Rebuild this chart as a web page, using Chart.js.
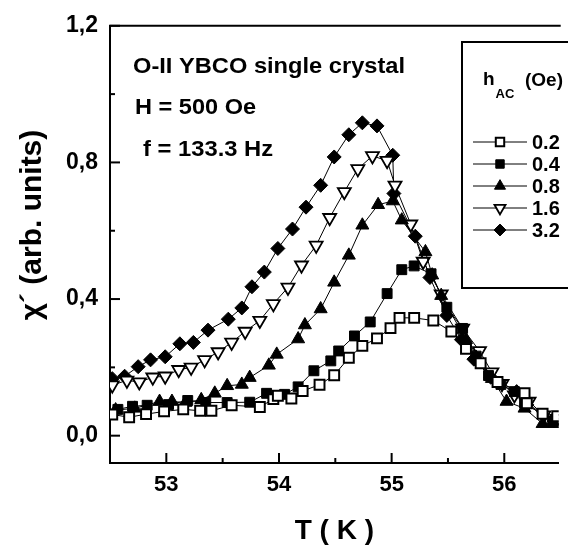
<!DOCTYPE html>
<html><head><meta charset="utf-8">
<script src="https://cdn.jsdelivr.net/npm/chart.js@4/dist/chart.umd.min.js"></script>
<style>html,body{margin:0;padding:0;background:#fff;overflow:hidden}#wrap{width:568px;height:548px}</style>
</head><body><div id="wrap"><canvas id="c" width="568" height="548"></canvas></div>
<script>
// ---- axis ticks ----
const xMajorTicks = [53, 54, 55, 56];
const xMinorTicks = [53.5, 54.5, 55.5];
const yMajorTicks = [0, 0.4, 0.8, 1.2];
const yMinorTicks = [0.2, 0.6, 1.0];
const seriesLabels = ['0.2', '0.4', '0.8', '1.6', '3.2'];

// ---- series: h_AC = 0.2 Oe (open squares) ----
const T02 = [52.52,52.67,52.82,52.98,53.15,53.30,53.40,53.58,53.83,53.95,53.99,54.11,54.21,54.36,54.49,54.62,54.74,54.87,54.99,55.07,55.20,55.37,55.53,55.66,55.79,55.94,56.18,56.20,56.34,56.47];
const V02 = [0.062,0.054,0.063,0.071,0.077,0.073,0.073,0.089,0.084,0.107,0.117,0.109,0.131,0.149,0.177,0.228,0.263,0.285,0.315,0.345,0.345,0.337,0.305,0.254,0.212,0.157,0.124,0.095,0.064,0.057];
// ---- h_AC = 0.4 Oe (filled squares) ----
const T04 = [52.57,52.70,52.83,53.02,53.19,53.35,53.54,53.74,53.89,54.05,54.17,54.31,54.46,54.53,54.67,54.81,54.96,55.09,55.20,55.35,55.49,55.63,55.75,55.86,55.97,56.09,56.18,56.43];
const V04 = [0.077,0.086,0.089,0.091,0.103,0.097,0.097,0.098,0.124,0.121,0.143,0.190,0.219,0.248,0.292,0.333,0.416,0.486,0.497,0.474,0.376,0.314,0.233,0.176,0.150,0.129,0.095,0.043];
// ---- h_AC = 0.8 Oe (filled up-triangles) ----
const T08 = [52.55,52.72,52.94,53.05,53.17,53.31,53.43,53.54,53.67,53.74,53.91,53.98,54.17,54.23,54.37,54.49,54.62,54.74,54.88,55.01,55.09,55.30,55.36,55.44,55.66,55.75,55.89,56.02,56.18,56.34,56.44];
const V08 = [0.075,0.080,0.100,0.100,0.097,0.105,0.124,0.146,0.150,0.170,0.206,0.238,0.283,0.324,0.371,0.449,0.528,0.616,0.676,0.687,0.631,0.538,0.470,0.410,0.281,0.229,0.167,0.100,0.080,0.035,0.035];
// ---- h_AC = 1.6 Oe (open down-triangles) ----
const T16 = [52.52,52.65,52.76,52.88,52.99,53.11,53.22,53.34,53.46,53.58,53.70,53.83,53.95,54.08,54.20,54.33,54.45,54.58,54.70,54.83,54.96,55.03,55.17,55.28,55.44,55.63,55.78,55.89,55.98,56.09,56.22,56.35,56.47];
const V16 = [0.148,0.162,0.157,0.171,0.174,0.193,0.200,0.222,0.245,0.273,0.305,0.337,0.386,0.434,0.499,0.557,0.638,0.714,0.781,0.819,0.805,0.733,0.619,0.510,0.414,0.314,0.248,0.186,0.152,0.119,0.100,0.060,0.050];
// ---- h_AC = 3.2 Oe (filled diamonds) ----
const T32 = [52.52,52.63,52.75,52.86,52.99,53.12,53.24,53.37,53.55,53.67,53.76,53.87,53.99,54.12,54.24,54.37,54.49,54.62,54.74,54.87,55.01,55.02,55.21,55.34,55.49,55.62,55.73,55.88,56.11,56.20,56.44];
const V32 = [0.167,0.174,0.202,0.222,0.231,0.269,0.273,0.309,0.341,0.374,0.436,0.479,0.548,0.605,0.669,0.733,0.816,0.881,0.916,0.907,0.821,0.709,0.584,0.463,0.352,0.281,0.224,0.171,0.129,0.090,0.043];

const seriesT = [T02, T04, T08, T16, T32];
const seriesV = [V02, V04, V08, V16, V32];
const styles = [
  {pointStyle:'rect', fill:'#ffffff', rot:0, r:7, bw:2},
  {pointStyle:'rect', fill:'#000000', rot:0, r:7, bw:1},
  {pointStyle:'triangle', fill:'#000000', rot:0, r:7.5, bw:1},
  {pointStyle:'triangle', fill:'#ffffff', rot:180, r:7.5, bw:1.8},
  {pointStyle:'rectRot', fill:'#000000', rot:0, r:7, bw:1}
];

const datasets = seriesLabels.map((lab, i) => ({
  label: lab,
  data: seriesT[i].map((t, j) => ({x: t, y: seriesV[i][j]})),
  showLine: true,
  borderColor: '#000',
  borderWidth: 1,
  pointStyle: styles[i].pointStyle,
  pointRotation: styles[i].rot,
  pointRadius: styles[i].r,
  pointBackgroundColor: styles[i].fill,
  pointBorderColor: '#000',
  pointBorderWidth: styles[i].bw,
  tension: 0
}));

const FONT = '"Liberation Sans", Arial, Helvetica, sans-serif';

function drawMarker(ctx, st, x, y, r) {
  ctx.save();
  ctx.beginPath();
  if (st.pointStyle === 'rect') {
    const s = Math.SQRT1_2 * r;
    ctx.rect(x - s, y - s, 2 * s, 2 * s);
  } else if (st.pointStyle === 'rectRot') {
    ctx.moveTo(x - r, y); ctx.lineTo(x, y - r); ctx.lineTo(x + r, y); ctx.lineTo(x, y + r); ctx.closePath();
  } else {
    const sgn = st.rot === 180 ? -1 : 1;
    const h = r * 0.866;
    ctx.moveTo(x, y - sgn * r);
    ctx.lineTo(x + h, y + sgn * r / 2);
    ctx.lineTo(x - h, y + sgn * r / 2);
    ctx.closePath();
  }
  ctx.fillStyle = st.fill; ctx.fill();
  ctx.lineWidth = st.bw; ctx.strokeStyle = '#000'; ctx.stroke();
  ctx.restore();
}

function wideText(ctx, txt, x, y, sx) {
  ctx.save();
  ctx.translate(x, y);
  ctx.scale(sx, 1);
  ctx.fillText(txt, 0, 0);
  ctx.restore();
}

const deco = {
  id: 'deco',
  beforeDatasetsDraw(chart) {
    const {ctx, chartArea: a, scales: {x, y}} = chart;
    ctx.save();
    ctx.strokeStyle = '#000';
    ctx.lineWidth = 2;
    ctx.beginPath(); ctx.moveTo(a.left - 1, a.top); ctx.lineTo(a.right + 2, a.top); ctx.stroke();
    const tick = (px, py, dx, dy) => { ctx.beginPath(); ctx.moveTo(px, py); ctx.lineTo(px + dx, py + dy); ctx.stroke(); };
    xMajorTicks.forEach(v => tick(x.getPixelForValue(v), a.bottom, 0, -10));
    xMinorTicks.forEach(v => tick(x.getPixelForValue(v), a.bottom, 0, -5));
    yMajorTicks.forEach(v => tick(a.left, y.getPixelForValue(v), 10, 0));
    yMinorTicks.forEach(v => tick(a.left, y.getPixelForValue(v), 5, 0));
    ctx.restore();
  },
  afterDatasetsDraw(chart) {
    const ctx = chart.ctx;
    ctx.save();
    ctx.fillStyle = '#000';
    ctx.textBaseline = 'middle';
    ctx.textAlign = 'left';
    ctx.font = 'bold 22px ' + FONT;
    wideText(ctx, 'O-II YBCO single crystal', 133, 67, 1.075);
    wideText(ctx, 'H = 500 Oe', 135, 108, 1.07);
    wideText(ctx, 'f = 133.3 Hz', 143, 150, 1.08);
    // y-axis title
    ctx.save();
    ctx.translate(33, 225);
    ctx.rotate(-Math.PI / 2);
    ctx.textAlign = 'center';
    ctx.font = 'bold 30px ' + FONT;
    ctx.fillText('χ´ (arb. units)', 0, 0);
    ctx.restore();
    // legend box
    ctx.fillStyle = '#fff';
    ctx.fillRect(462, 42, 120, 246);
    ctx.strokeStyle = '#000'; ctx.lineWidth = 2;
    ctx.strokeRect(462, 42, 120, 246);
    ctx.fillStyle = '#000';
    ctx.textBaseline = 'alphabetic';
    ctx.font = 'bold 19px ' + FONT;
    ctx.fillText('h', 483, 85);
    const hw = ctx.measureText('h').width;
    ctx.font = 'bold 13px ' + FONT;
    ctx.fillText('AC', 483 + hw + 1, 98);
    ctx.font = 'bold 19px ' + FONT;
    ctx.fillText('(Oe)', 525, 86);
    const rows = [142, 164, 186, 208, 230];
    ctx.textBaseline = 'middle';
    seriesLabels.forEach((lab, i) => {
      const yy = rows[i];
      ctx.strokeStyle = '#000'; ctx.lineWidth = 1;
      ctx.beginPath(); ctx.moveTo(473, yy); ctx.lineTo(527, yy); ctx.stroke();
      drawMarker(ctx, styles[i], 500, yy, styles[i].r * 0.85);
      ctx.fillStyle = '#000';
      ctx.font = 'bold 20px ' + FONT;
      ctx.fillText(lab, 532, yy + 1);
    });
    ctx.restore();
  }
};

new Chart(document.getElementById('c'), {
  type: 'scatter',
  data: {datasets},
  options: {
    responsive: false,
    animation: false,
    events: [],
    layout: {padding: {top: 17, right: 0, left: 0, bottom: 0}},
    plugins: {legend: {display: false}, tooltip: {enabled: false}},
    scales: {
      x: {
        type: 'linear', min: 52.5, max: 56.483,
        afterBuildTicks: s => { s.ticks = xMajorTicks.map(v => ({value: v})); },
        afterFit: s => { s.height = 85; },
        grid: {display: false, drawTicks: false},
        border: {display: true, width: 2, color: '#000'},
        ticks: {color: '#000', font: {family: FONT, size: 22, weight: 'bold'}, padding: 9, maxRotation: 0, callback: v => String(v)},
        title: {display: true, text: 'T ( K )', color: '#000', font: {family: FONT, size: 28, weight: 'bold'}, padding: {top: 1, bottom: 0}}
      },
      y: {
        type: 'linear', min: -0.08, max: 1.2,
        afterBuildTicks: s => { s.ticks = yMajorTicks.map(v => ({value: v})); },
        afterFit: s => { s.width = 110; },
        grid: {display: false, drawTicks: false},
        border: {display: true, width: 2, color: '#000'},
        ticks: {color: '#000', font: {family: FONT, size: 23, weight: 'bold'}, padding: 12, callback: v => v.toFixed(1).replace('.', ',')},
        title: {display: false}
      }
    }
  },
  plugins: [deco]
});
</script>
</body></html>
